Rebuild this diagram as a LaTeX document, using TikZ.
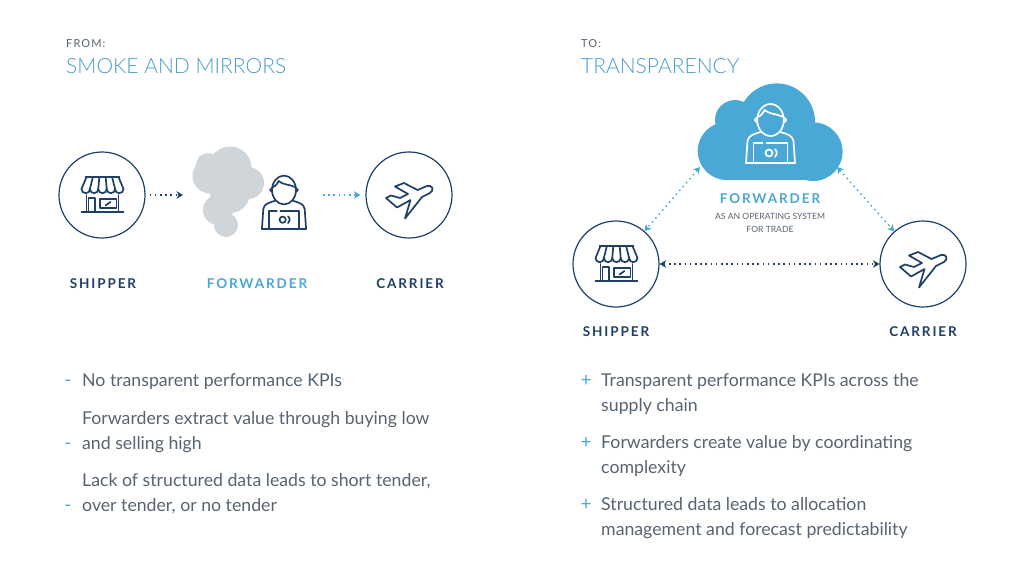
\documentclass[tikz,border=0pt]{standalone}
\usepackage{fontspec}
\setmainfont{Lato}
\newfontfamily\lightfont{Lato Light}
\newfontfamily\spacedfont[LetterSpace=14,BoldFont={Lato Bold}]{Lato}
\newfontfamily\capsfont[LetterSpace=10]{Lato}
\usetikzlibrary{calc,arrows.meta}
\definecolor{navy}{HTML}{1F3F66}
\definecolor{skyblue}{HTML}{4AA8D6}
\definecolor{titleblue}{HTML}{4A9CC9}
\definecolor{smokegrey}{HTML}{CFD5D8}
\definecolor{bodygrey}{HTML}{566370}
\tikzset{
  iconline/.style={line width=1.7pt,line join=round,line cap=round},
  round/.style={circle,draw=navy,line width=1.2pt,minimum size=86pt,inner sep=0pt},
  dotline/.style={line width=1.4pt,dash pattern=on 1.6pt off 3.6pt,>={Stealth[length=6.5pt,width=7.5pt,inset=2pt]}},
  tag/.style={font=\fontsize{13.5}{16}\spacedfont\bfseries,inner sep=0pt},
  smalltitle/.style={anchor=base west,inner sep=0pt,text=bodygrey,font=\fontsize{11}{13}\capsfont},
  bigtitle/.style={anchor=base west,inner sep=0pt,text=titleblue,font=\fontsize{21}{26}\lightfont},
  bodytxt/.style={anchor=west,inner sep=0pt,align=left,text=bodygrey,font=\fontsize{17.7}{24.7}\selectfont},
  mark dash/.style={inner sep=0pt,text=skyblue,font=\fontsize{19}{20}\selectfont},
  shopicon/.pic={
    \draw[iconline] (-17,-18)--(17,-18);
    \foreach \i in {0,...,4} {
      \draw[iconline] (-21+8.4*\i,-6) arc[start angle=180,end angle=0,radius=4.2];
      \draw[iconline] (-21+8.4*\i,-6)--(-16+6.4*\i,-18);
    }
    \draw[iconline] (21,-6)--(16,-18);
    \draw[iconline] (-16,0)--(-16,17) (16,0)--(16,17) (-21,17)--(21,17);
    \draw[iconline] (-14,17)--(-14,3)--(-7.5,3)--(-7.5,17);
    \draw[iconline] (-2.5,13)rectangle(14,4);
    \draw[iconline] (3,10.5)--(8,7);
  },
  planeicon/.pic={
    \draw[iconline] (-23,3)--(-18,0.5)--(-9,3)--(-1,-1)--(-14,-8.5)--(-5,-12)--(8.5,-5)--(18,-9)
      .. controls (23,-10.5) and (26,-5) .. (21,-2)--(13,2)--(-4,23.5)--(1.5,5)--(-12,12.5)--cycle;
  },
  personicon/.pic={
    \draw[iconline] (0,0) ellipse[x radius=13.3,y radius=16];
    \draw[iconline] (-13,-3) .. controls (-9,-4) and (-7,-8) .. (-6,-10) .. controls (-2,-6) and (7,-6) .. (13,-3);
    \draw[iconline] (-13.5,-2) arc[start angle=270,end angle=90,radius=2];
    \draw[iconline] (13.5,-2) arc[start angle=-90,end angle=90,radius=2];
    \draw[iconline] (-24.5,43)--(-23,21) .. controls (-22,15) and (-16,14) .. (-10,12);
    \draw[iconline] (24.5,43)--(23,21) .. controls (22,15) and (16,14) .. (10,12);
    \draw[iconline] (-24.5,43)--(24.5,43);
    \draw[iconline] (-17,43)--(-17,23)--(-8,23) (-4,23)--(17,23)--(17,43);
    \draw[iconline] (-1.5,33) circle[radius=3.5];
    \draw[iconline] (4.5,29.2) arc[start angle=-50,end angle=50,radius=5];
  }
}
\begin{document}
\begin{tikzpicture}[x=1pt,y=-1pt]
  \useasboundingbox (0,0) rectangle (1024,576);
  % headings
  \node[smalltitle] (fromtxt) at (66,47) {FROM:};
  \node[bigtitle] (smoketxt) at (66,73) {SMOKE AND MIRRORS};
  \node[smalltitle] (totxt) at (581,47) {TO:};
  \node[bigtitle] (transptxt) at (581,73) {TRANSPARENCY};
  % left chain
  \node[round](shipperL)at(102,195){};
  \node[round](carrierL)at(409,195){};
  \fill[smokegrey] (230,168) circle[radius=21.5] (210,176) circle[radius=17.5] (208,165) circle[radius=12]
    (248,183) circle[radius=16] (230,193) circle[radius=20] (218,210) circle[radius=15] (226,225) circle[radius=12];
  \pic at (102.5,195) [color=navy] {shopicon};
  \pic at (409,195) [color=navy] {planeicon};
  \pic at (284,190) [color=navy,scale=.9] {personicon};
  \coordinate (smokeW) at (183,195);
  \coordinate (personE) at (323,195);
  \draw[dotline,->,navy,shorten <=4pt](shipperL)--(smokeW);
  \draw[dotline,->,skyblue,shorten >=5pt](personE)--(carrierL);
  \node[tag,navy](shipL)at(103,284){SHIPPER};
  \node[tag,skyblue](fwdL)at(257,284){FORWARDER};
  \node[tag,navy](carL)at(410,284){CARRIER};
  % right triangle
  \fill[skyblue] (776.7,121.7) circle[radius=38.3] (735,120) circle[radius=20] (726.7,151) circle[radius=29]
    (813.3,151.7) circle[radius=29.3];
  \fill[skyblue] (727,140) rectangle (813,180);
  \node[round](shipperR)at(616,264){};
  \node[round](carrierR)at(923,264){};
  \pic at (616.5,264) [color=navy] {shopicon};
  \pic at (923,264) [color=navy] {planeicon};
  \pic at (770.5,120) [color=white] {personicon};
  \coordinate (cloudW) at (700,167);
  \coordinate (cloudE) at (837,167);
  \draw[dotline,<->,skyblue](cloudW)--(shipperR);
  \draw[dotline,<->,skyblue](cloudE)--(carrierR);
  \draw[dotline,<->,navy](shipperR)--(carrierR);
  \node[tag,skyblue](fwdR)at(770,199){FORWARDER};
  \node[inner sep=0pt,align=center,text=bodygrey,font=\fontsize{8.6}{13}\selectfont](ostxt)at(770,222.5){AS AN OPERATING SYSTEM\\FOR TRADE};
  \node[tag,navy](shipR)at(616,332){SHIPPER};
  \node[tag,navy](carR)at(923,332){CARRIER};
  % left list
  \node[bodytxt](a1)at(82,382){No transparent performance KPIs};
  \node[bodytxt](a2)at(82,432){Forwarders extract value through buying low\\and selling high};
  \node[bodytxt](a3)at(82,494){Lack of structured data leads to short tender,\\over tender, or no tender};
  \foreach \y in {383.5,446,508} \node[mark dash](dash\y)at(68,\y){-};
  % right list
  \node[bodytxt](b1)at(601,394){Transparent performance KPIs across the\\supply chain};
  \node[bodytxt](b2)at(601,456){Forwarders create value by coordinating\\complexity};
  \node[bodytxt](b3)at(601,518){Structured data leads to allocation\\management and forecast predictability};
  \foreach \y in {381,443,505} \node[mark dash](plus\y)at(586,\y){+};
\end{tikzpicture}
\end{document}
